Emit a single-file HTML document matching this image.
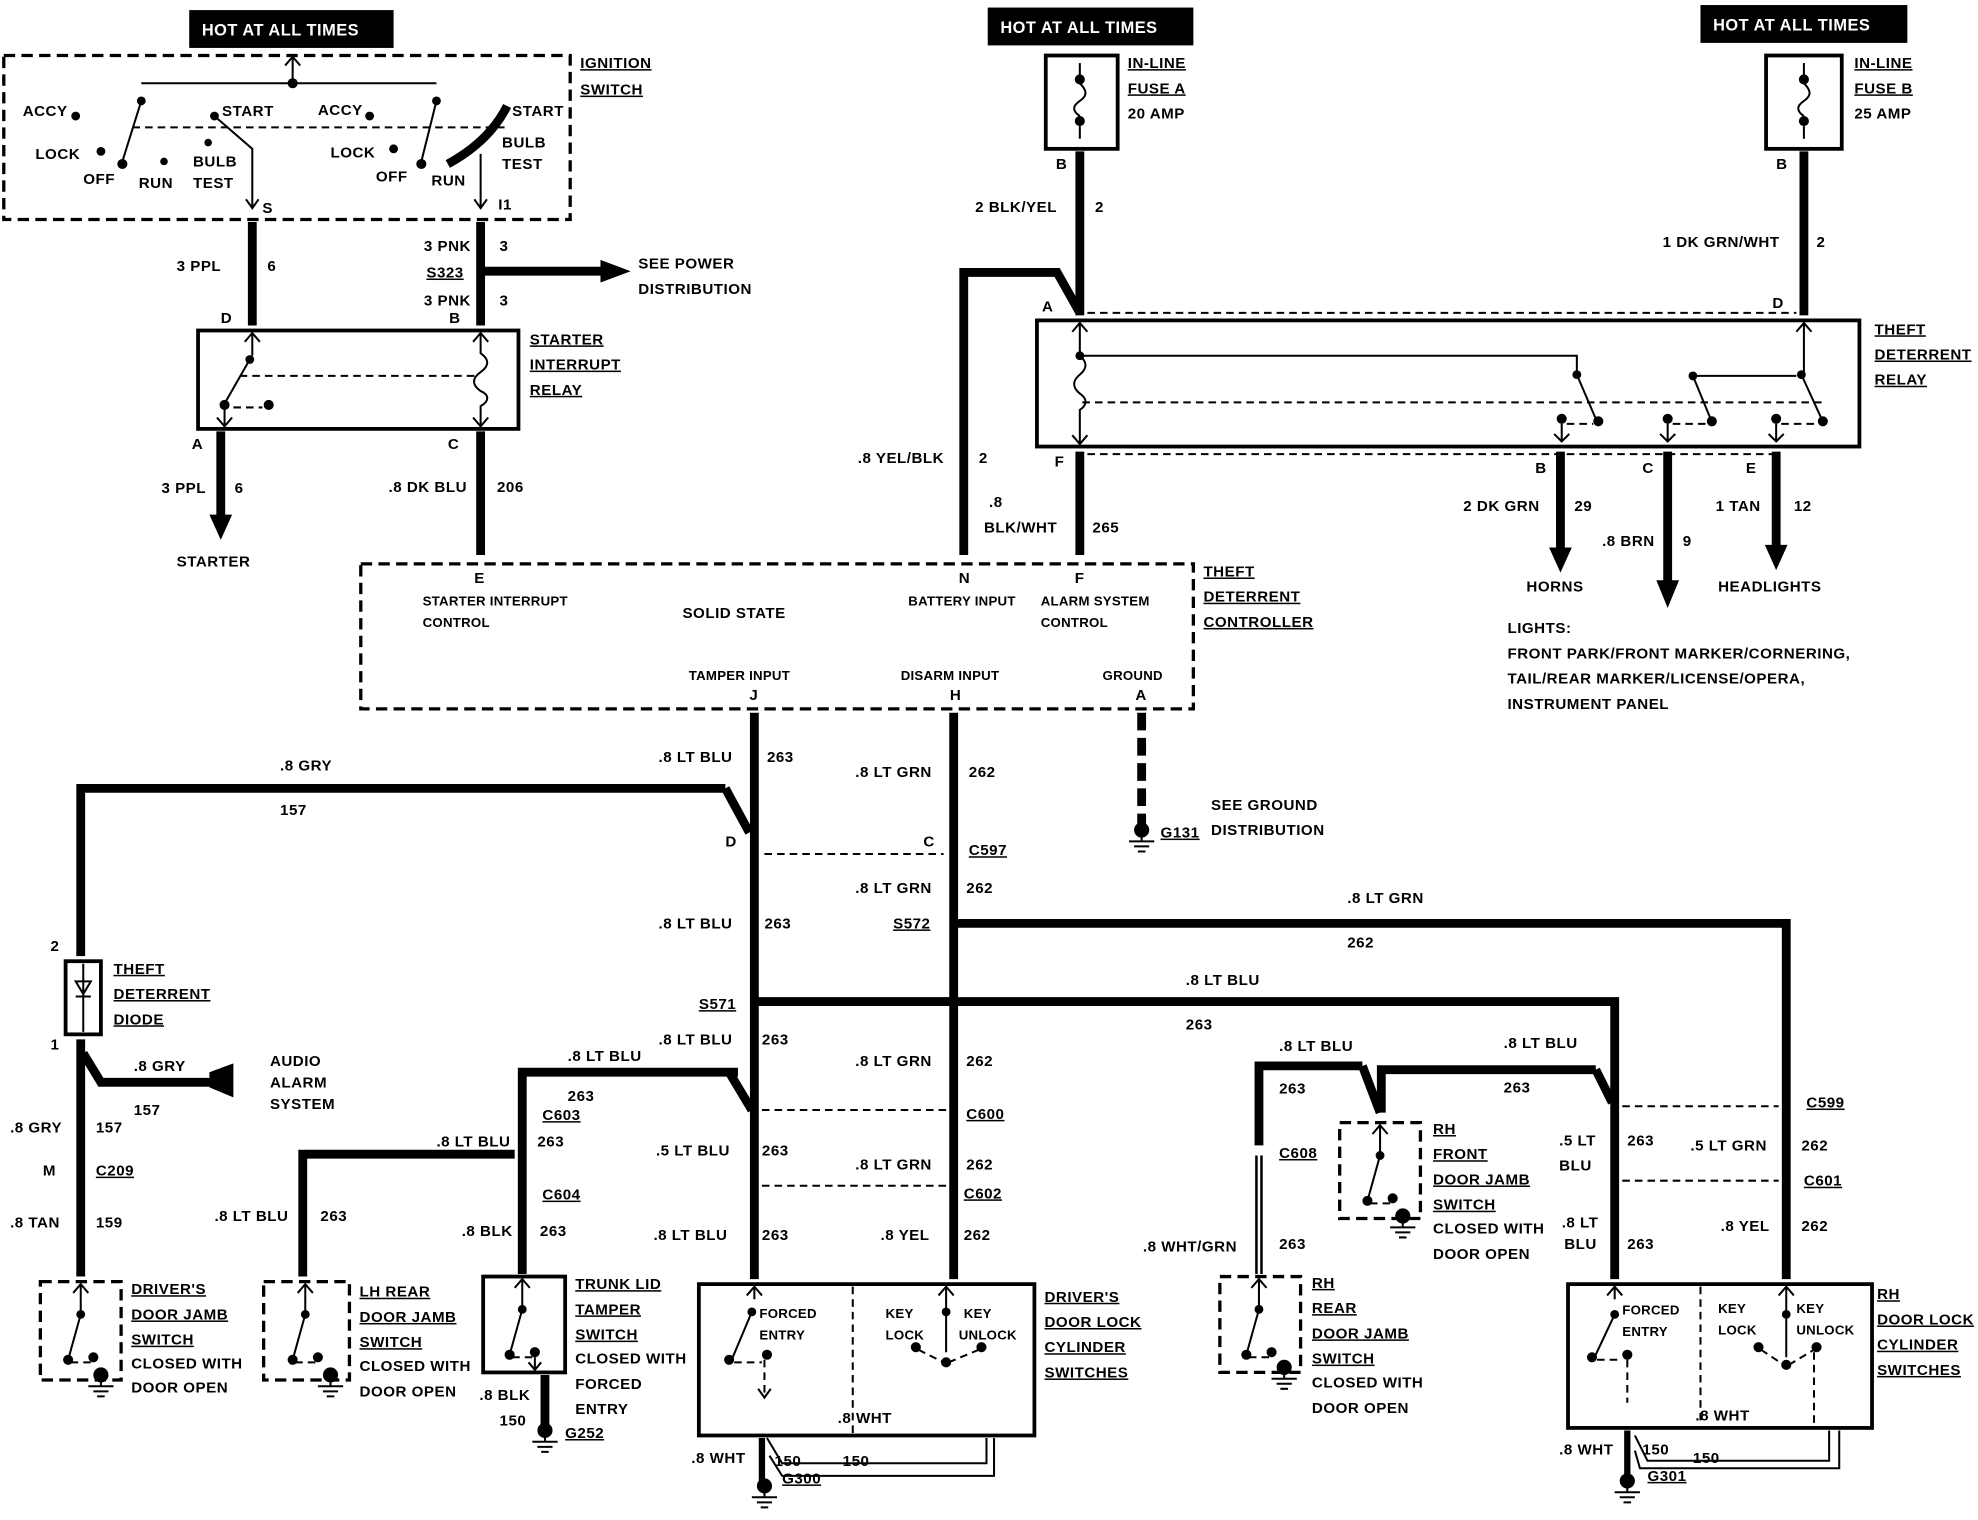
<!DOCTYPE html>
<html><head><meta charset="utf-8"><style>
html,body{margin:0;padding:0;background:#fff;}
svg{display:block;}
text{font-family:"Liberation Sans",sans-serif;font-weight:bold;font-size:12px;letter-spacing:0.4px;fill:#000;}
.u{text-decoration:underline;}
.w{stroke:#000;stroke-width:7;fill:none;stroke-linejoin:miter;}
.t{stroke:#000;stroke-width:1.6;fill:none;}
.d{stroke:#000;stroke-width:1.6;fill:none;stroke-dasharray:6 4;}
.bd{stroke:#000;stroke-width:2.6;fill:none;stroke-dasharray:9 5;}
.bx{stroke:#000;stroke-width:3;fill:none;}
.hot{fill:#fff;font-size:13px;}
.s{font-size:10.5px;letter-spacing:0.2px;}
</style></head><body>
<svg width="1978" height="1520" viewBox="0 0 1568 1205" preserveAspectRatio="none" xmlns="http://www.w3.org/2000/svg">
<defs>
<g id="sw">
<path class="t" d="M14,0 V22 M8,7 L14,0 L20,7"/>
<circle cx="14" cy="24" r="3.5"/>
<path class="t" d="M14,24 L4,60" stroke-width="2.5"/>
<circle cx="4" cy="60" r="4"/>
<path class="d" d="M6,62 H22"/>
<circle cx="24" cy="58" r="4"/>
</g>
<g id="gnd">
<circle cx="0" cy="0" r="6"/>
<path class="t" d="M0,0 V9 M-10,9 H10 M-6,13 H6 M-3,17 H3" stroke-width="2"/>
</g>
<g id="fuse">
<path class="t" d="M0,0 V10"/>
<circle cx="0" cy="13" r="4"/>
<path class="t" d="M0,16 C6,22 6,26 0,30 C-6,34 -6,38 0,42"/>
<circle cx="0" cy="46" r="4"/>
<path class="t" d="M0,50 V60"/>
</g>
</defs>

<rect x="150" y="8" width="162" height="30" fill="#000"/><text class="hot" x="160" y="28">HOT AT ALL TIMES</text>
<rect x="783" y="6" width="163" height="30" fill="#000"/><text class="hot" x="793" y="26">HOT AT ALL TIMES</text>
<rect x="1348" y="4" width="164" height="30" fill="#000"/><text class="hot" x="1358" y="24">HOT AT ALL TIMES</text>

<rect class="bd" x="3" y="44" width="449" height="130"/>
<text class="u" x="460" y="54">IGNITION</text><text class="u" x="460" y="75">SWITCH</text>
<path class="t" d="M112,66 H346 M232,66 V46 M226,52 L232,45 L238,52"/>
<circle cx="232" cy="66" r="4"/>
<circle cx="112" cy="80" r="3.5"/><path class="t" d="M112,80 L97,128" stroke-width="2.5"/>
<circle cx="346" cy="80" r="3.5"/><path class="t" d="M346,80 L334,128" stroke-width="2.5"/>
<path class="d" d="M105,101 H400"/>
<text x="18" y="92">ACCY</text><circle cx="60" cy="92" r="3.5"/>
<text x="28" y="126">LOCK</text><circle cx="80" cy="120" r="3.5"/>
<text x="66" y="146">OFF</text><circle cx="97" cy="130" r="4"/>
<text x="110" y="149">RUN</text><circle cx="130" cy="128" r="3"/>
<text x="153" y="132">BULB</text><text x="153" y="149">TEST</text><circle cx="165" cy="113" r="3"/>
<text x="176" y="92">START</text><circle cx="170" cy="92" r="3.5"/>
<path class="t" d="M170,92 L200,118 V165 M195,158 L200,165 L205,158"/>
<text x="252" y="91">ACCY</text><circle cx="293" cy="92" r="3.5"/>
<text x="262" y="125">LOCK</text><circle cx="312" cy="118" r="3.5"/>
<text x="298" y="144">OFF</text><circle cx="334" cy="130" r="4"/>
<text x="342" y="147">RUN</text>
<path d="M355,130 Q388,112 402,84" stroke="#000" stroke-width="7" fill="none"/>
<text x="406" y="92">START</text><text x="398" y="117">BULB</text><text x="398" y="134">TEST</text>
<path class="t" d="M381,122 V165 M376,158 L381,165 L386,158"/>
<text x="208" y="169">S</text><text x="395" y="166">I1</text>

<path class="w" d="M200,176 V258"/>
<text x="140" y="215">3 PPL</text><text x="212" y="215">6</text>
<path class="w" d="M381,176 V258 M381,215 H478"/>
<path d="M476,206 L500,215 L476,224 Z"/>
<text x="336" y="199">3 PNK</text><text x="396" y="199">3</text>
<text class="u" x="338" y="220">S323</text>
<text x="336" y="242">3 PNK</text><text x="396" y="242">3</text>
<text x="506" y="213">SEE POWER</text><text x="506" y="233">DISTRIBUTION</text>
<text x="175" y="256">D</text><text x="356" y="256">B</text>

<rect class="bx" x="157" y="262" width="254" height="78"/>
<text class="u" x="420" y="273">STARTER</text><text class="u" x="420" y="293">INTERRUPT</text><text class="u" x="420" y="313">RELAY</text>
<path class="t" d="M200,264 V282 M194,271 L200,264 L206,271"/>
<circle cx="198" cy="285" r="3.5"/><path class="t" d="M198,285 L178,320" stroke-width="2.5"/>
<circle cx="178" cy="321" r="4"/><circle cx="213" cy="321" r="4"/><path class="d" d="M185,323 H208"/>
<path class="t" d="M178,323 V338 M172,331 L178,338 L184,331"/>
<path class="d" d="M190,298 H376"/>
<path class="t" d="M381,264 V280 C388,285 388,290 381,295 C374,300 374,305 381,310 C388,313 388,318 381,322 V338 M375,271 L381,264 L387,271 M375,331 L381,338 L387,331"/>
<text x="152" y="356">A</text><text x="355" y="356">C</text>

<path class="w" d="M175,342 V410"/><path d="M166,408 L175,428 L184,408 Z"/>
<text x="128" y="391">3 PPL</text><text x="186" y="391">6</text>
<text x="140" y="449">STARTER</text>
<path class="w" d="M381,342 V440"/>
<text x="308" y="390">.8 DK BLU</text><text x="394" y="390">206</text>

<rect class="bd" x="286" y="447" width="660" height="115"/>
<text class="u" x="954" y="457">THEFT</text><text class="u" x="954" y="477">DETERRENT</text><text class="u" x="954" y="497">CONTROLLER</text>
<text x="376" y="462" font-size="10">E</text>
<text class="s" x="335" y="480">STARTER INTERRUPT</text><text class="s" x="335" y="497">CONTROL</text>
<text x="541" y="490">SOLID STATE</text>
<text x="760" y="462" font-size="10">N</text><text x="852" y="462" font-size="10">F</text>
<text class="s" x="720" y="480">BATTERY INPUT</text>
<text class="s" x="825" y="480">ALARM SYSTEM</text><text class="s" x="825" y="497">CONTROL</text>
<text class="s" x="546" y="539">TAMPER INPUT</text><text class="s" x="714" y="539">DISARM INPUT</text><text class="s" x="874" y="539">GROUND</text>
<text x="594" y="555" font-size="10">J</text><text x="753" y="555" font-size="10">H</text><text x="900" y="555" font-size="10">A</text>

<rect class="bx" x="829" y="44" width="57" height="74"/>
<use href="#fuse" x="856" y="50"/>
<text class="u" x="894" y="54">IN-LINE</text><text class="u" x="894" y="74">FUSE A</text><text x="894" y="94">20 AMP</text>
<text x="837" y="134">B</text>
<path class="w" d="M856,120 V250"/>
<text x="773" y="168">2 BLK/YEL</text><text x="868" y="168">2</text>
<path class="w" d="M764,440 V216 H838 L856,248"/>
<text x="680" y="367">.8 YEL/BLK</text><text x="776" y="367">2</text>
<text x="826" y="247">A</text>

<rect class="bx" x="1400" y="44" width="60" height="74"/>
<use href="#fuse" x="1430" y="50"/>
<text class="u" x="1470" y="54">IN-LINE</text><text class="u" x="1470" y="74">FUSE B</text><text x="1470" y="94">25 AMP</text>
<text x="1408" y="134">B</text>
<path class="w" d="M1430,120 V250"/>
<text x="1318" y="196">1 DK GRN/WHT</text><text x="1440" y="196">2</text>
<text x="1405" y="244">D</text>
<path class="d" d="M862,248 H1424"/>

<rect class="bx" x="822" y="254" width="652" height="100"/>
<text class="u" x="1486" y="265">THEFT</text><text class="u" x="1486" y="285">DETERRENT</text><text class="u" x="1486" y="305">RELAY</text>
<path class="t" d="M856,256 V282 C862,287 862,292 856,297 C850,302 850,307 856,312 C862,316 862,321 856,325 V352 M850,263 L856,256 L862,263 M850,345 L856,352 L862,345"/>
<circle cx="856" cy="282" r="3.5"/>
<path class="t" d="M856,282 H1250 V295"/>
<path class="d" d="M858,319 H1446"/>
<circle cx="1250" cy="297" r="3.5"/><path class="t" d="M1250,297 L1265,332" stroke-width="2.5"/><circle cx="1267" cy="334" r="4"/>
<circle cx="1238" cy="332" r="4"/><path class="d" d="M1242,336 H1263"/>
<path class="t" d="M1238,336 V350 M1232,344 L1238,350 L1244,344"/>
<circle cx="1342" cy="298" r="3.5"/><path class="t" d="M1342,298 H1424 M1342,298 L1356,332"/><circle cx="1357" cy="334" r="4"/>
<circle cx="1322" cy="332" r="4"/><path class="d" d="M1326,336 H1352"/>
<path class="t" d="M1322,336 V350 M1316,344 L1322,350 L1328,344"/>
<path class="t" d="M1430,256 V296 M1424,263 L1430,256 L1436,263"/>
<circle cx="1428" cy="297" r="3.5"/><path class="t" d="M1428,297 L1444,332" stroke-width="2.5"/><circle cx="1445" cy="334" r="4"/>
<circle cx="1408" cy="332" r="4"/><path class="d" d="M1412,336 H1440"/>
<path class="t" d="M1408,336 V350 M1402,344 L1408,350 L1414,344"/>
<path class="d" d="M862,360 H1412"/>
<text x="836" y="370">F</text>
<path class="w" d="M856,358 V440"/>
<text x="784" y="402">.8</text><text x="780" y="422">BLK/WHT</text><text x="866" y="422">265</text>
<text x="1217" y="375">B</text><text x="1302" y="375">C</text><text x="1384" y="375">E</text>
<path class="w" d="M1237,358 V436"/><path d="M1228,434 L1237,454 L1246,434 Z"/>
<path class="w" d="M1322,358 V462"/><path d="M1313,460 L1322,482 L1331,460 Z"/>
<path class="w" d="M1408,358 V434"/><path d="M1399,432 L1408,452 L1417,432 Z"/>
<text x="1160" y="405">2 DK GRN</text><text x="1248" y="405">29</text>
<text x="1270" y="433">.8 BRN</text><text x="1334" y="433">9</text>
<text x="1360" y="405">1 TAN</text><text x="1422" y="405">12</text>
<text x="1210" y="469">HORNS</text><text x="1362" y="469">HEADLIGHTS</text>
<text x="1195" y="502">LIGHTS:</text>
<text x="1195" y="522">FRONT PARK/FRONT MARKER/CORNERING,</text>
<text x="1195" y="542">TAIL/REAR MARKER/LICENSE/OPERA,</text>
<text x="1195" y="562">INSTRUMENT PANEL</text>

<path class="w" d="M598,565 V1014"/>
<path class="w" d="M756,565 V1014"/>
<path d="M905,565 V655" stroke="#000" stroke-width="7" stroke-dasharray="14 6"/>
<use href="#gnd" x="905" y="658"/>
<text class="u" x="920" y="664">G131</text>
<text x="960" y="642">SEE GROUND</text><text x="960" y="662">DISTRIBUTION</text>
<text x="522" y="604">.8 LT BLU</text><text x="608" y="604">263</text>
<text x="678" y="616">.8 LT GRN</text><text x="768" y="616">262</text>
<path class="w" d="M575,625 H64 V758"/>
<path class="w" d="M575,625 L594,660"/>
<text x="222" y="611">.8 GRY</text><text x="222" y="646">157</text>
<text x="575" y="671">D</text><text x="732" y="671">C</text><text class="u" x="768" y="678">C597</text>
<path class="d" d="M606,677 H748"/>
<text x="522" y="736">.8 LT BLU</text><text x="606" y="736">263</text>
<text x="678" y="708">.8 LT GRN</text><text x="766" y="708">262</text>
<text class="u" x="708" y="736">S572</text>
<path class="w" d="M756,732 H1416 V1014"/>
<text x="1068" y="716">.8 LT GRN</text><text x="1068" y="751">262</text>
<text class="u" x="554" y="800">S571</text>
<path class="w" d="M598,794 H1280 V1014"/>
<text x="940" y="781">.8 LT BLU</text><text x="940" y="816">263</text>
<text x="522" y="828">.8 LT BLU</text><text x="604" y="828">263</text>
<text x="678" y="845">.8 LT GRN</text><text x="766" y="845">262</text>

<rect class="bx" x="52" y="762" width="28" height="58"/>
<path class="t" d="M66,764 V818 M60,778 H72 L66,788 Z M60,790 H72"/>
<text x="40" y="754">2</text><text x="40" y="832">1</text>
<text class="u" x="90" y="772">THEFT</text><text class="u" x="90" y="792">DETERRENT</text><text class="u" x="90" y="812">DIODE</text>
<path class="w" d="M64,824 V1012"/>
<path class="w" d="M66,835 L80,858 H168"/>
<path d="M166,850 L185,843 V870 L166,862 Z"/>
<text x="106" y="849">.8 GRY</text><text x="106" y="884">157</text>
<text x="214" y="845">AUDIO</text><text x="214" y="862">ALARM</text><text x="214" y="879">SYSTEM</text>
<text x="8" y="898">.8 GRY</text><text x="76" y="898">157</text>
<text x="34" y="932">M</text><text class="u" x="76" y="932">C209</text>
<text x="8" y="973">.8 TAN</text><text x="76" y="973">159</text>

<path class="w" d="M585,850 H414 V1010"/>
<path class="w" d="M578,850 L596,880"/>
<text x="450" y="841">.8 LT BLU</text><text x="450" y="873">263</text>
<text class="u" x="430" y="888">C603</text>
<path class="w" d="M408,915 H240 V1012"/>
<text x="346" y="909">.8 LT BLU</text><text x="426" y="909">263</text>
<text class="u" x="430" y="951">C604</text>
<text x="170" y="968">.8 LT BLU</text><text x="254" y="968">263</text>
<text x="366" y="980">.8 BLK</text><text x="428" y="980">263</text>
<text x="520" y="916">.5 LT BLU</text><text x="604" y="916">263</text>
<text x="518" y="983">.8 LT BLU</text><text x="604" y="983">263</text>
<text x="678" y="927">.8 LT GRN</text><text x="766" y="927">262</text>
<text x="698" y="983">.8 YEL</text><text x="764" y="983">262</text>
<text class="u" x="766" y="887">C600</text><text class="u" x="764" y="950">C602</text>
<path class="d" d="M604,880 H750 M604,940 H750"/>

<rect class="bd" x="32" y="1016" width="64" height="78"/>
<use href="#sw" x="50" y="1018"/>
<use href="#gnd" x="80" y="1090"/>
<text class="u" x="104" y="1026">DRIVER'S</text><text class="u" x="104" y="1046">DOOR JAMB</text><text class="u" x="104" y="1066">SWITCH</text>
<text x="104" y="1085">CLOSED WITH</text><text x="104" y="1104">DOOR OPEN</text>
<rect class="bd" x="209" y="1016" width="68" height="78"/>
<use href="#sw" x="228" y="1018"/>
<use href="#gnd" x="262" y="1090"/>
<text class="u" x="285" y="1028">LH REAR</text><text class="u" x="285" y="1048">DOOR JAMB</text><text class="u" x="285" y="1068">SWITCH</text>
<text x="285" y="1087">CLOSED WITH</text><text x="285" y="1107">DOOR OPEN</text>
<rect class="bx" x="383" y="1012" width="65" height="76"/>
<use href="#sw" x="400" y="1014"/>
<path class="t" d="M424,1076 V1086 M419,1080 L424,1086 L429,1080"/>
<path class="w" d="M432,1090 V1130"/>
<use href="#gnd" x="432" y="1134"/>
<text x="380" y="1110">.8 BLK</text><text x="396" y="1130">150</text><text class="u" x="448" y="1140">G252</text>
<text class="u" x="456" y="1022">TRUNK LID</text><text class="u" x="456" y="1042">TAMPER</text><text class="u" x="456" y="1062">SWITCH</text>
<text x="456" y="1081">CLOSED WITH</text><text x="456" y="1101">FORCED</text><text x="456" y="1121">ENTRY</text>

<rect class="bx" x="554" y="1018" width="266" height="120"/>
<path class="d" d="M676,1020 V1136" stroke-dasharray="2 3"/>
<path class="t" d="M598,1020 V1030 M592,1027 L598,1020 L604,1027"/>
<circle cx="596" cy="1040" r="3.5"/><path class="t" d="M596,1040 L580,1078" stroke-width="2.5"/>
<circle cx="578" cy="1078" r="4"/><circle cx="608" cy="1074" r="4"/><path class="d" d="M582,1080 H604 M606,1078 V1108"/>
<path class="t" d="M601,1101 L606,1108 L611,1101"/>
<text class="s" x="602" y="1045">FORCED</text><text class="s" x="602" y="1062">ENTRY</text>
<text class="s" x="702" y="1045">KEY</text><text class="s" x="702" y="1062">LOCK</text>
<text class="s" x="764" y="1045">KEY</text><text class="s" x="760" y="1062">UNLOCK</text>
<path class="t" d="M750,1020 V1072 M744,1027 L750,1020 L756,1027"/>
<circle cx="750" cy="1040" r="3.5"/><circle cx="750" cy="1080" r="4"/>
<circle cx="726" cy="1068" r="4"/><circle cx="778" cy="1068" r="4"/>
<path class="d" d="M728,1070 L748,1080 M752,1080 L776,1070"/>
<text class="u" x="828" y="1032">DRIVER'S</text><text class="u" x="828" y="1052">DOOR LOCK</text><text class="u" x="828" y="1072">CYLINDER</text><text class="u" x="828" y="1092">SWITCHES</text>
<path d="M604,1140 V1176" stroke="#000" stroke-width="5" fill="none"/>
<path class="t" d="M608,1140 L620,1160 H782 V1140 M610,1154 L620,1170 H788 V1140" stroke-width="2"/>
<use href="#gnd" x="606" y="1178"/>
<text x="664" y="1128">.8 WHT</text><text x="548" y="1160">.8 WHT</text><text x="614" y="1162">150</text><text x="668" y="1162">150</text>
<text class="u" x="620" y="1176">G300</text>

<path class="w" d="M1265,848 H1095 V882"/>
<path class="w" d="M1265,848 L1278,874"/>
<path class="w" d="M1080,845 H998 V908"/>
<path class="w" d="M1080,845 L1094,882"/>
<text x="1014" y="833">.8 LT BLU</text><text x="1014" y="867">263</text>
<text x="1192" y="831">.8 LT BLU</text><text x="1192" y="866">263</text>
<path d="M998,916 V1010" stroke="#000" stroke-width="6" fill="none"/>
<path d="M998,916 V1010" stroke="#fff" stroke-width="2" fill="none"/>
<text class="u" x="1014" y="918">C608</text>
<text x="906" y="992">.8 WHT/GRN</text><text x="1014" y="990">263</text>
<rect class="bd" x="1062" y="890" width="64" height="76"/>
<use href="#sw" x="1080" y="892"/>
<use href="#gnd" x="1112" y="964"/>
<text class="u" x="1136" y="899">RH</text><text class="u" x="1136" y="919">FRONT</text><text class="u" x="1136" y="939">DOOR JAMB</text><text class="u" x="1136" y="959">SWITCH</text>
<text x="1136" y="978">CLOSED WITH</text><text x="1136" y="998">DOOR OPEN</text>
<rect class="bd" x="967" y="1012" width="64" height="76"/>
<use href="#sw" x="984" y="1014"/>
<use href="#gnd" x="1018" y="1084"/>
<text class="u" x="1040" y="1021">RH</text><text class="u" x="1040" y="1041">REAR</text><text class="u" x="1040" y="1061">DOOR JAMB</text><text class="u" x="1040" y="1081">SWITCH</text>
<text x="1040" y="1100">CLOSED WITH</text><text x="1040" y="1120">DOOR OPEN</text>

<path class="d" d="M1286,877 H1410 M1286,936 H1410"/>
<text class="u" x="1432" y="878">C599</text><text class="u" x="1430" y="940">C601</text>
<text x="1236" y="908">.5 LT</text><text x="1236" y="928">BLU</text><text x="1290" y="908">263</text>
<text x="1340" y="912">.5 LT GRN</text><text x="1428" y="912">262</text>
<text x="1238" y="973">.8 LT</text><text x="1240" y="990">BLU</text><text x="1290" y="990">263</text>
<text x="1364" y="976">.8 YEL</text><text x="1428" y="976">262</text>

<rect class="bx" x="1243" y="1018" width="241" height="114"/>
<path class="d" d="M1348,1020 V1130" stroke-dasharray="2 3"/>
<path class="t" d="M1280,1020 V1030 M1274,1027 L1280,1020 L1286,1027"/>
<circle cx="1280" cy="1042" r="3.5"/><path class="t" d="M1280,1042 L1264,1076" stroke-width="2.5"/>
<circle cx="1262" cy="1076" r="4"/><circle cx="1290" cy="1074" r="4"/><path class="d" d="M1266,1078 H1286 M1290,1078 V1112"/>
<text class="s" x="1286" y="1042">FORCED</text><text class="s" x="1286" y="1059">ENTRY</text>
<text class="s" x="1362" y="1041">KEY</text><text class="s" x="1362" y="1058">LOCK</text>
<text class="s" x="1424" y="1041">KEY</text><text class="s" x="1424" y="1058">UNLOCK</text>
<path class="t" d="M1416,1020 V1076 M1410,1027 L1416,1020 L1422,1027"/>
<circle cx="1416" cy="1042" r="3.5"/><circle cx="1416" cy="1082" r="4"/>
<circle cx="1394" cy="1068" r="4"/><circle cx="1440" cy="1068" r="4"/>
<path class="d" d="M1396,1070 L1414,1082 M1418,1082 L1438,1070 M1438,1072 V1130"/>
<text class="u" x="1488" y="1030">RH</text><text class="u" x="1488" y="1050">DOOR LOCK</text><text class="u" x="1488" y="1070">CYLINDER</text><text class="u" x="1488" y="1090">SWITCHES</text>
<path d="M1290,1134 V1172" stroke="#000" stroke-width="5" fill="none"/>
<path class="t" d="M1296,1138 L1306,1158 H1450 V1134 M1296,1150 L1300,1164 H1458 V1134" stroke-width="2"/>
<use href="#gnd" x="1290" y="1174"/>
<text x="1344" y="1126">.8 WHT</text><text x="1236" y="1153">.8 WHT</text><text x="1302" y="1153">150</text><text x="1342" y="1160">150</text>
<text class="u" x="1306" y="1174">G301</text>
</svg>
</body></html>
